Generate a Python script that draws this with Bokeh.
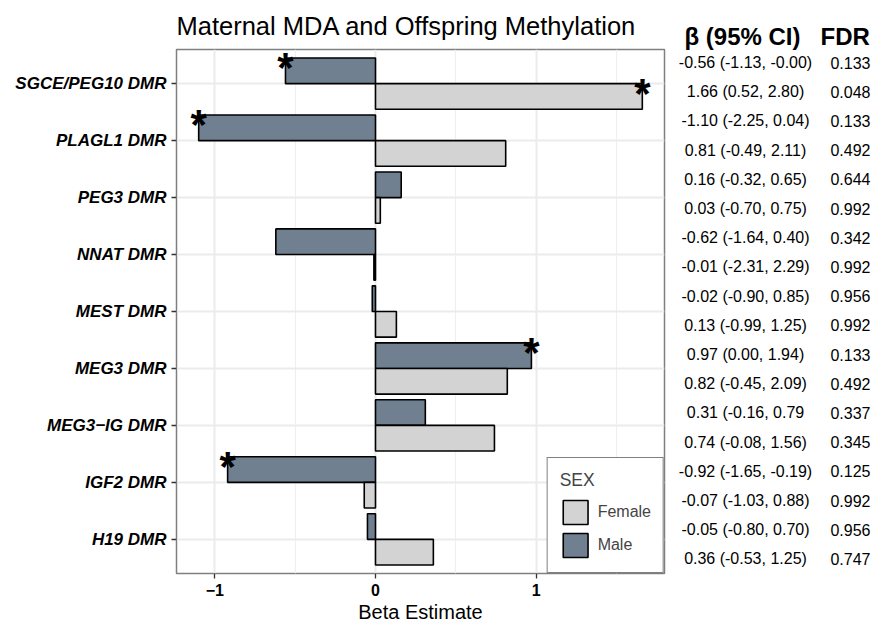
from bokeh.plotting import figure
from bokeh.models import Range1d, FixedTicker, ColumnDataSource, Legend, LegendItem
from bokeh.layouts import row
from bokeh.core.properties import value
from bokeh.embed import file_html
from bokeh.resources import INLINE

# ---------------- data ----------------
categories = ["SGCE/PEG10 DMR", "PLAGL1 DMR", "PEG3 DMR", "NNAT DMR", "MEST DMR",
              "MEG3 DMR", "MEG3\u2212IG DMR", "IGF2 DMR", "H19 DMR"]
male_beta = [-0.56, -1.10, 0.16, -0.62, -0.02, 0.97, 0.31, -0.92, -0.05]
female_beta = [1.66, 0.81, 0.03, -0.01, 0.13, 0.82, 0.74, -0.07, 0.36]
male_sig = [True, True, False, False, False, True, False, True, False]
female_sig = [True, False, False, False, False, False, False, False, False]

table_ci = ["-0.56 (-1.13, -0.00)", "1.66 (0.52, 2.80)", "-1.10 (-2.25, 0.04)",
            "0.81 (-0.49, 2.11)", "0.16 (-0.32, 0.65)", "0.03 (-0.70, 0.75)",
            "-0.62 (-1.64, 0.40)", "-0.01 (-2.31, 2.29)", "-0.02 (-0.90, 0.85)",
            "0.13 (-0.99, 1.25)", "0.97 (0.00, 1.94)", "0.82 (-0.45, 2.09)",
            "0.31 (-0.16, 0.79", "0.74 (-0.08, 1.56)", "-0.92 (-1.65, -0.19)",
            "-0.07 (-1.03, 0.88)", "-0.05 (-0.80, 0.70)", "0.36 (-0.53, 1.25)"]
table_fdr = ["0.133", "0.048", "0.133", "0.492", "0.644", "0.992", "0.342", "0.992",
             "0.956", "0.992", "0.133", "0.492", "0.337", "0.345", "0.125", "0.992",
             "0.956", "0.747"]
table_headers = ["\u03b2 (95% CI)", "FDR"]

x_ticks = [-1, 0, 1]
x_tick_labels = ["\u22121", "0", "1"]
x_minor = [-0.5, 0.5, 1.5]

title_text = "Maternal MDA and Offspring Methylation"
x_title = "Beta Estimate"
legend_title = "SEX"

MALE_COL = "#708090"
FEMALE_COL = "#D3D3D3"
FONT = "Liberation Sans"

# page geometry (pixels)
W, H = 875, 626
FRAME_L, FRAME_R, FRAME_T, FRAME_B = 176, 664, 49, 573
MAIN_W = FRAME_R + 2
TABLE_W = W - MAIN_W

# ---------------- main panel ----------------
n = len(categories)
pos = [n - i for i in range(n)]
dodge = 0.225
allv = male_beta + female_beta
lo, hi = min(allv), max(allv)
pad = 0.05 * (hi - lo)

p = figure(width=MAIN_W, height=H, output_backend="svg", toolbar_location=None,
           x_range=Range1d(lo - pad, hi + pad), y_range=Range1d(0.4, n + 0.6),
           min_border_left=FRAME_L, min_border_right=MAIN_W - FRAME_R,
           min_border_top=FRAME_T, min_border_bottom=H - FRAME_B,
           background_fill_color="white", border_fill_color="white")

src_m = ColumnDataSource(dict(y=[q + dodge for q in pos], right=male_beta))
src_f = ColumnDataSource(dict(y=[q - dodge for q in pos], right=female_beta))
rm = p.hbar(y="y", left=0, right="right", height=0.45, source=src_m,
            fill_color=MALE_COL, line_color="black", line_width=1.6)
rf = p.hbar(y="y", left=0, right="right", height=0.45, source=src_f,
            fill_color=FEMALE_COL, line_color="black", line_width=1.6)

sx, sy = [], []
for i in range(n):
    if male_sig[i]:
        sx.append(male_beta[i]); sy.append(pos[i] + dodge)
    if female_sig[i]:
        sx.append(female_beta[i]); sy.append(pos[i] - dodge)
src_s = ColumnDataSource(dict(x=sx, y=sy, t=["*"] * len(sx)))
p.text(x="x", y="y", text="t", source=src_s, text_font=value(FONT), text_font_style="bold",
       text_font_size="42px", text_align="center", text_baseline="middle",
       text_color="black", y_offset=-3)

# axes
p.yaxis.ticker = FixedTicker(ticks=pos)
p.yaxis.major_label_overrides = {pos[i]: categories[i] for i in range(n)}
p.yaxis.major_label_text_font = FONT
p.yaxis.major_label_text_font_style = "bold italic"
p.yaxis.major_label_text_font_size = "17px"
p.yaxis.major_label_text_color = "black"
p.yaxis.major_label_standoff = 5

p.xaxis.ticker = FixedTicker(ticks=x_ticks, minor_ticks=x_minor)
p.xaxis.major_label_overrides = dict(zip(x_ticks, x_tick_labels))
p.xaxis.major_label_text_font = FONT
p.xaxis.major_label_text_font_style = "bold"
p.xaxis.major_label_text_font_size = "16px"
p.xaxis.major_label_text_color = "black"
p.xaxis.major_label_standoff = 5
p.xaxis.axis_label = x_title
p.xaxis.axis_label_text_font = FONT
p.xaxis.axis_label_text_font_size = "20px"
p.xaxis.axis_label_text_font_style = "normal"
p.xaxis.axis_label_text_color = "black"
p.xaxis.axis_label_standoff = 2

for ax in (p.xaxis, p.yaxis):
    ax.axis_line_color = None
    ax.major_tick_line_color = "#333333"
    ax.major_tick_line_width = 1.3
    ax.major_tick_out = 5
    ax.major_tick_in = 0
    ax.minor_tick_line_color = None

p.ygrid.ticker = FixedTicker(ticks=pos)
p.xgrid.ticker = FixedTicker(ticks=x_ticks, minor_ticks=x_minor)
p.grid.grid_line_color = "#EBEBEB"
p.grid.grid_line_width = 2
p.xgrid.minor_grid_line_color = "#EFEFEF"
p.xgrid.minor_grid_line_width = 1.2
p.outline_line_color = "#7F7F7F"
p.outline_line_width = 1.5

p.title.text = title_text
p.title.text_font = FONT
p.title.text_font_size = "25.5px"
p.title.text_font_style = "normal"
p.title.text_color = "black"
p.title.align = "left"
p.title.standoff = 19

legend = Legend(items=[LegendItem(label="Female", renderers=[rf]),
                       LegendItem(label="Male", renderers=[rm])],
                location="bottom_right", title=legend_title,
                title_text_font=FONT, title_text_font_size="17.5px", title_text_font_style="normal",
                label_text_font=FONT, label_text_font_size="16px",
                glyph_width=31, glyph_height=30, label_height=30, label_standoff=7,
                spacing=3, padding=12, margin=0, title_standoff=6,
                border_line_color="black", border_line_width=1.5,
                background_fill_color="white", background_fill_alpha=1)
p.add_layout(legend)

# ---------------- table panel ----------------
# frame spans the same vertical extent as the main panel; data units = page pixels
t = figure(width=TABLE_W, height=H, output_backend="svg", toolbar_location=None,
           x_range=Range1d(MAIN_W, W), y_range=Range1d(FRAME_B, FRAME_T),
           min_border_left=0, min_border_right=0,
           min_border_top=FRAME_T, min_border_bottom=H - FRAME_B,
           x_axis_location=None, y_axis_location=None, outline_line_color=None,
           background_fill_color="white", border_fill_color="white")
t.grid.visible = False

# header row drawn as the table panel's title (lies above the frame)
nb = "\u00a0"
t.title.text = table_headers[0] + nb * 3 + table_headers[1]
t.title.text_font = FONT
t.title.text_font_size = "24px"
t.title.text_font_style = "bold"
t.title.text_color = "black"
t.title.align = "left"
t.title.offset = 684 - MAIN_W
t.title.standoff = 0

row_y = [62 + 29.2 * i for i in range(len(table_ci))]
t.text(x=[745] * len(table_ci), y=row_y, text=table_ci, text_font=value(FONT),
       text_font_size="16px", text_align="center", text_baseline="middle", text_color="black")
t.text(x=[870] * len(table_fdr), y=row_y, text=table_fdr, text_font=value(FONT),
       text_font_size="16px", text_align="right", text_baseline="middle", text_color="black")

layout = row(p, t, spacing=0)
open("out.html", "w").write(file_html(layout, INLINE))
